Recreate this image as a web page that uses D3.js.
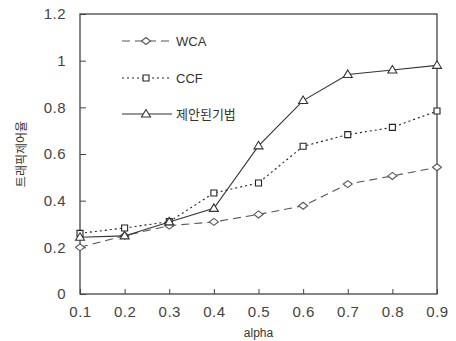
<!DOCTYPE html>
<html>
<head>
<meta charset="utf-8">
<script src="https://cdn.jsdelivr.net/npm/d3@7"></script>
<style>
  body { margin: 0; background: #fff; }
  svg { display: block; font-family: "Liberation Sans", "Noto Sans CJK KR", sans-serif; }
</style>
</head>
<body>
<svg id="chart"></svg>
<script>
let alphas = [0.1, 0.2, 0.3, 0.4, 0.5, 0.6, 0.7, 0.8, 0.9]
let wca = [0.20, 0.25, 0.293, 0.309, 0.341, 0.378, 0.471, 0.506, 0.543]
let ccf = [0.26, 0.283, 0.31, 0.433, 0.476, 0.633, 0.683, 0.714, 0.784]
let proposed = [0.243, 0.249, 0.309, 0.367, 0.635, 0.829, 0.941, 0.96, 0.98]
let seriesNames = ["WCA", "CCF", "제안된기법"]
let yTicks = [0, 0.2, 0.4, 0.6, 0.8, 1, 1.2]

let w = 456
let h = 341
let padLeft = 80, padRight = 437, padTop = 14, padBottom = 294

let svg = d3.select("#chart").attr("width", w).attr("height", h)

let xScale = d3.scaleLinear().domain([0.1, 0.9]).range([padLeft, padRight])
let yScale = d3.scaleLinear().domain([0, 1.2]).range([padBottom, padTop])

// plot frame
svg.append("rect")
   .attr("x", padLeft).attr("y", padTop)
   .attr("width", padRight - padLeft).attr("height", padBottom - padTop)
   .attr("fill", "none").attr("stroke", "#444").attr("stroke-width", 1.3)

// axes, ticks pointing inward
let xAxis = d3.axisBottom(xScale).tickValues(alphas).tickSizeInner(-5).tickSizeOuter(0).tickPadding(12)
              .tickFormat(d3.format(".1f"))
let yAxis = d3.axisLeft(yScale).tickValues(yTicks).tickSizeInner(-6).tickSizeOuter(0).tickPadding(14)
              .tickFormat(d => d === 0 || d === 1 ? String(d) : d3.format(".1f")(d))

let gx = svg.append("g").attr("transform", "translate(0," + padBottom + ")").call(xAxis)
let gy = svg.append("g").attr("transform", "translate(" + padLeft + ",0)").call(yAxis)
;[gx, gy].forEach(g => {
  g.select(".domain").remove()
  g.selectAll(".tick line").attr("stroke", "#444")
  g.selectAll("text").attr("fill", "#444").style("font-size", "15px").style("letter-spacing", "0.5px")
})

// axis titles
svg.append("text")
   .attr("x", (padLeft + padRight) / 2).attr("y", 337)
   .attr("text-anchor", "middle").attr("fill", "#333")
   .style("font-size", "12px").text("alpha")

svg.append("text")
   .attr("transform", "translate(26," + ((padTop + padBottom) / 2) + ") rotate(-90)")
   .attr("text-anchor", "middle").attr("fill", "#333")
   .style("font-size", "12px").text("트래픽제어율")

let styles = [
  { data: wca, dash: "8,5", color: "#555", marker: "diamond" },
  { data: ccf, dash: "2,3", color: "#222", marker: "square" },
  { data: proposed, dash: null, color: "#333", marker: "triangle" }
]

let markerPath = {
  diamond: "M0,-3.5L4.5,0L0,3.5L-4.5,0Z",
  square: "M-3,-3L3,-3L3,3L-3,3Z",
  triangle: "M0,-4.5L4.5,3L-4.5,3Z"
}

let line = d3.line().x((d, i) => xScale(alphas[i])).y(d => yScale(d))

styles.forEach(s => {
  svg.append("path")
     .datum(s.data)
     .attr("d", line)
     .attr("fill", "none")
     .attr("stroke", s.color)
     .attr("stroke-width", 1.1)
     .attr("stroke-dasharray", s.dash)

  svg.selectAll(null)
     .data(s.data)
     .enter()
     .append("path")
     .attr("d", markerPath[s.marker])
     .attr("transform", (d, i) => "translate(" + xScale(alphas[i]) + "," + yScale(d) + ")")
     .attr("fill", "#fff")
     .attr("stroke", s.color)
     .attr("stroke-width", 1.1)
})

// legend
let legendY = [41, 78, 114]
styles.forEach((s, i) => {
  let g = svg.append("g").attr("transform", "translate(0," + legendY[i] + ")")
  g.append("line")
   .attr("x1", 122).attr("x2", 172).attr("y1", 0).attr("y2", 0)
   .attr("stroke", s.color).attr("stroke-width", 1.1)
   .attr("stroke-dasharray", s.dash)
  g.append("path")
   .attr("d", markerPath[s.marker])
   .attr("transform", "translate(146,0)")
   .attr("fill", "#fff").attr("stroke", s.color).attr("stroke-width", 1.1)
  g.append("text")
   .attr("x", 176).attr("y", 5)
   .attr("fill", "#333").style("font-size", "13px")
   .text(seriesNames[i])
})
</script>
</body>
</html>
